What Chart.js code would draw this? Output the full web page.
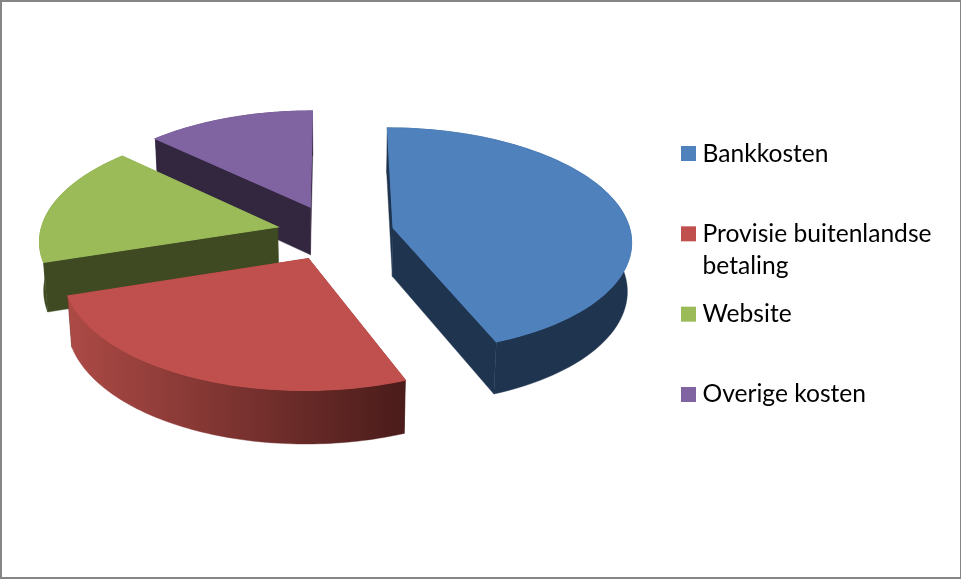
<!DOCTYPE html>
<html>
<head>
<meta charset="utf-8">
<title>Kosten</title>
<script src="https://cdn.jsdelivr.net/npm/chart.js@4"></script>
<style>
  html, body { margin: 0; padding: 0; background: #fff; overflow: hidden; }
  #wrap { position: relative; width: 961px; height: 579px; }
  #frame {
    position: absolute; inset: 0; box-sizing: border-box; pointer-events: none;
    border-style: solid; border-color: #868686; border-width: 2px 1px 2px 2px;
  }
  canvas { display: block; }
</style>
</head>
<body>
<div id="wrap">
  <canvas id="chart" width="961" height="579"></canvas>
  <div id="frame"></div>
</div>
<script>
const categories = ['Bankkosten', 'Provisie buitenlandse betaling', 'Website', 'Overige kosten'];
const values = [44.0, 26.0, 17.1, 12.9];
const sliceOffsets = [60.5, 58.7, 58, 62];
const topColors = ['#4f81bd', '#c0504d', '#9bbb59', '#8064a2'];
const wallColors = [['#1f344f', '#1f344f'], ['#ad4a46', '#4a1c1a'], ['#3f4a23', '#3f4a23'], ['#33263f', '#33263f']];

const pieWidth = 237.5;   // on-screen radius of the pie before perspective
const tilt = 0.47;
const persp = 0.108;
const shrink = 0.014;
const depth = 49.5;

function projector(el) {
  const mid = (el.startAngle + el.endAngle) / 2;
  const off = el.options.offset;
  return (angle, r, z) => {
    const X = off * Math.cos(mid) + r * pieWidth * Math.cos(angle);
    const Y = off * Math.sin(mid) + r * pieWidth * Math.sin(angle);
    const f = 1 / (1 - persp * Y / pieWidth + shrink * z);
    return [el.x + X * f, el.y + (Y * tilt + depth * z) * f];
  };
}

function fillPoly(ctx, pts, fill, seam) {
  ctx.beginPath();
  pts.forEach((p, i) => (i ? ctx.lineTo(p[0], p[1]) : ctx.moveTo(p[0], p[1])));
  ctx.closePath();
  ctx.fillStyle = fill;
  ctx.strokeStyle = fill;
  ctx.lineWidth = seam;
  ctx.fill();
  ctx.stroke();
}

const pie3d = {
  id: 'pie3d',
  beforeDatasetDraw(chart, args) {
    const { ctx } = chart;
    const arcs = chart.getDatasetMeta(args.index).data;
    const order = arcs.map((el, i) => i).sort((a, b) => {
      const s = (el) => Math.sin((el.startAngle + el.endAngle) / 2);
      return s(arcs[a]) - s(arcs[b]);
    });
    order.forEach((i) => {
      const el = arcs[i];
      const p = projector(el);
      const steps = 80;
      const top = [], bottom = [];
      for (let s = 0; s <= steps; s++) {
        const a = el.startAngle + (el.endAngle - el.startAngle) * s / steps;
        top.push(p(a, 1, 0));
        bottom.push(p(a, 1, 1));
      }
      const grad = ctx.createLinearGradient(66, 0, 405, 0);
      grad.addColorStop(0, wallColors[i][0]);
      grad.addColorStop(1, wallColors[i][1]);
      const flat = wallColors[i][1];
      // radial walls, then the rim, then the lid (thicker edge hides the wall fringe)
      [el.startAngle, el.endAngle].forEach((a) => {
        fillPoly(ctx, [p(a, 0, 0), p(a, 1, 0), p(a, 1, 1), p(a, 0, 1)], flat, 0.4);
      });
      fillPoly(ctx, top.concat(bottom.slice().reverse()), grad, 0.4);
      fillPoly(ctx, [p(el.startAngle, 0, 0)].concat(top), topColors[i], 1.2);
    });
    return false;
  },
};

const sideLegend = {
  id: 'sideLegend',
  afterDraw(chart) {
    const { ctx } = chart;
    ctx.save();
    ctx.font = '24.6px Lato';
    ctx.textBaseline = 'alphabetic';
    categories.forEach((name, i) => {
      const boxY = 146 + i * 80.33;
      ctx.fillStyle = topColors[i];
      ctx.fillRect(681, boxY, 15, 15);
      ctx.fillStyle = '#000';
      // wrap like the original legend does
      const lines = [];
      let line = '';
      name.split(' ').forEach((w) => {
        const next = line ? line + ' ' + w : w;
        if (ctx.measureText(next).width > 240 && line) { lines.push(line); line = w; } else line = next;
      });
      lines.push(line);
      lines.forEach((l, n) => ctx.fillText(l, 702.5, boxY + 15.5 + n * 32));
    });
    ctx.restore();
  },
};

new Chart(document.getElementById('chart'), {
  type: 'pie',
  data: {
    labels: categories,
    datasets: [{ data: values, backgroundColor: topColors, offset: sliceOffsets, borderWidth: 0 }],
  },
  options: {
    responsive: false,
    animation: false,
    layout: { padding: { right: 293, bottom: 113 } },
    plugins: { legend: { display: false }, tooltip: { enabled: false } },
  },
  plugins: [pie3d, sideLegend],
});
</script>
</body>
</html>
